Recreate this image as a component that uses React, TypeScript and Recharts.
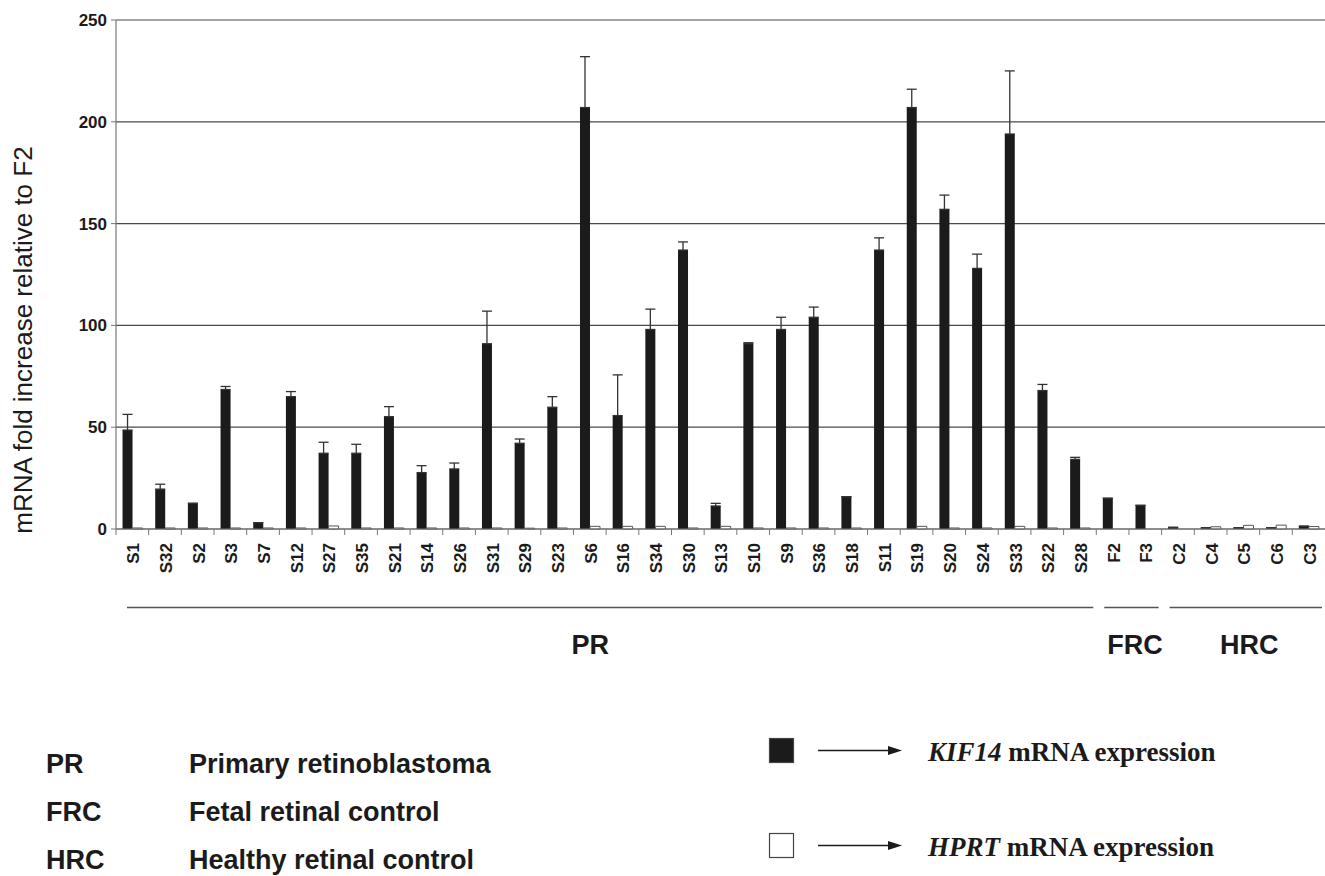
import React from "react";
import { BarChart, Bar, XAxis, YAxis, CartesianGrid, ErrorBar } from "recharts";

// samples in plotted order
const samples = [
  "S1", "S32", "S2", "S3", "S7", "S12", "S27", "S35", "S21", "S14",
  "S26", "S31", "S29", "S23", "S6", "S16", "S34", "S30", "S13", "S10",
  "S9", "S36", "S18", "S11", "S19", "S20", "S24", "S33", "S22", "S28",
  "F2", "F3",
  "C2", "C4", "C5", "C6", "C3",
];

// KIF14 fold increase (black bars)
const kif14 = [
  48.6, 19.6, 12.6, 68.5, 3.1, 65, 37.2, 37.2, 55.2, 27.7,
  29.5, 91, 42.1, 59.8, 207, 55.7, 98, 137, 11.3, 91,
  98, 104, 15.9, 137, 207, 157, 128, 194, 68, 34.2,
  15.1, 11.6,
  0.8, 0.6, 0.6, 0.6, 1.4,
];

// upper error (SD) on KIF14
const kif14Err = [
  7.7, 2.4, 0, 1.5, 0, 2.5, 5.4, 4.4, 4.9, 3.4,
  2.9, 16, 2.1, 5.2, 25, 20, 10, 4, 1.3, 0.5,
  6, 5, 0, 6, 9, 7, 7, 31, 3, 1,
  0, 0,
  0, 0, 0, 0, 0,
];

// HPRT (white bars)
const hprt = [
  0.5, 0.5, 0.5, 0.5, 0.5, 0.5, 1.5, 0.5, 0.5, 0.5,
  0.5, 0.5, 0.4, 0.5, 1.3, 1.3, 1.3, 0.5, 1.3, 0.5,
  0.5, 0.5, 0.5, 0, 1.3, 0.5, 0.5, 1.3, 0.5, 0.5,
  0, 0,
  0, 1.1, 1.8, 1.9, 1.2,
];

const yTicks = [0, 50, 100, 150, 200, 250];

const groupNames = ["PR", "FRC", "HRC"];
const groupSizes = [30, 2, 5];
const groupDesc = ["Primary retinoblastoma", "Fetal retinal control", "Healthy retinal control"];

const seriesNames = ["KIF14", "HPRT"];

const W = 1325;
const H = 876;
const PLOT_LEFT = 116;
const PLOT_TOP = 20;
const PLOT_BOTTOM = 529;
const BAND = (W - PLOT_LEFT) / samples.length;

const SANS = "Arial, 'Liberation Sans', sans-serif";
const SERIF = "'Times New Roman', 'Liberation Serif', serif";
const INK = "#1b1b1b";

const data = samples.map((name, i) => ({
  name,
  kif14: kif14[i],
  kifErr: [0, kif14Err[i]],
  hprt: hprt[i],
}));

function SampleTick(props: any) {
  const { x, y, payload } = props;
  const bx = x - BAND / 2;
  return (
    <g>
      <line x1={bx} y1={PLOT_BOTTOM} x2={bx} y2={PLOT_BOTTOM + 6} stroke="#777" strokeWidth={1} />
      <text
        x={x + 1}
        y={y}
        transform={`rotate(-90, ${x + 1}, ${y})`}
        textAnchor="end"
        dy="0.35em"
        fontFamily={SANS}
        fontWeight="bold"
        fontSize={17}
        fill={INK}
      >
        {payload.value}
      </text>
    </g>
  );
}

function Annotations() {
  let start = 0;
  const brackets = groupNames.map((g, i) => {
    const x0 = PLOT_LEFT + start * BAND;
    const x1 = PLOT_LEFT + (start + groupSizes[i]) * BAND;
    start += groupSizes[i];
    return { g, x0, x1 };
  });
  return (
    <svg width={W} height={H} style={{ position: "absolute", left: 0, top: 0, pointerEvents: "none" }}>
      <text
        x={32}
        y={340}
        transform="rotate(-90, 32, 340)"
        textAnchor="middle"
        fontFamily={SANS}
        fontSize={26}
        fill={INK}
      >
        mRNA fold increase relative to F2
      </text>

      {brackets.map((b, i) => (
        <g key={b.g}>
          <line
            x1={b.x0 + (i === 0 ? 11 : 8)}
            x2={Math.min(b.x1 - 3, W)}
            y1={607.5}
            y2={607.5}
            stroke="#555"
            strokeWidth={1.5}
          />
          <text
            x={(b.x0 + b.x1) / 2 + (i === 0 ? -16 : 6)}
            y={654}
            textAnchor="middle"
            fontFamily={SANS}
            fontWeight="bold"
            fontSize={27}
            fill={INK}
          >
            {b.g}
          </text>
        </g>
      ))}

      {groupNames.map((g, i) => (
        <g key={"lg" + g} fontFamily={SANS} fontWeight="bold" fontSize={27} fill={INK}>
          <text x={46} y={773 + i * 48}>{g}</text>
          <text x={189} y={773 + i * 48}>{groupDesc[i]}</text>
        </g>
      ))}

      {seriesNames.map((s, i) => {
        const cy = 750.5 + i * 95;
        return (
          <g key={s}>
            <rect
              x={769.5}
              y={cy - 12}
              width={24}
              height={24}
              fill={i === 0 ? INK : "#fff"}
              stroke="#444"
              strokeWidth={1.2}
            />
            <line x1={818} x2={890} y1={cy} y2={cy} stroke={INK} strokeWidth={1.3} />
            <polygon points={`${888},${cy - 4.5} ${902},${cy} ${888},${cy + 4.5}`} fill={INK} />
            <text x={928} y={cy + 10} fontFamily={SERIF} fontWeight="bold" fontSize={27} fill={INK}>
              <tspan fontStyle="italic">{s}</tspan> mRNA expression
            </text>
          </g>
        );
      })}
    </svg>
  );
}

export default function App() {
  return (
    <div style={{ position: "absolute", left: 0, top: 0, width: W, height: H, background: "#fff" }}>
      <BarChart
        width={W}
        height={PLOT_BOTTOM + 50}
        data={data}
        margin={{ top: PLOT_TOP, right: 0, bottom: 0, left: 0 }}
        barCategoryGap="20%"
        barGap={0}
      >
        <CartesianGrid vertical={false} stroke="#4a4a4a" strokeWidth={1.2} />
        <XAxis
          dataKey="name"
          interval={0}
          height={50}
          tickLine={false}
          tickSize={6}
          tickMargin={8}
          axisLine={{ stroke: "#777", strokeWidth: 1.2 }}
          tick={<SampleTick />}
        />
        <YAxis
          width={PLOT_LEFT}
          domain={[0, 250]}
          ticks={yTicks}
          interval={0}
          tickSize={5}
          tickMargin={4}
          axisLine={{ stroke: "#777", strokeWidth: 1.2 }}
          tickLine={{ stroke: "#777" }}
          tick={{ fontFamily: SANS, fontWeight: "bold", fontSize: 17, fill: INK }}
        />
        <Bar dataKey="kif14" fill={INK} isAnimationActive={false}>
          <ErrorBar dataKey="kifErr" direction="y" width={5} stroke="#333" strokeWidth={1.3} />
        </Bar>
        <Bar dataKey="hprt" fill="#fff" stroke="#555" strokeWidth={1} isAnimationActive={false} />
      </BarChart>
      <Annotations />
    </div>
  );
}
